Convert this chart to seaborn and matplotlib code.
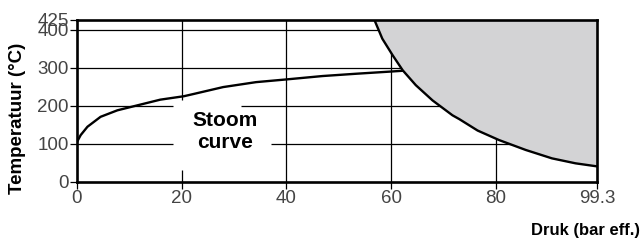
import numpy as np
import pandas as pd
import seaborn as sns
import matplotlib.pyplot as plt

# steam saturation curve (druk in bar eff., temperatuur in °C)
stoom_druk = [0, 0.7, 2, 4.5, 7.7, 11.5, 15.9, 20.4, 22.3, 27.9, 34.2, 39.9,
              46.9, 53.3, 60.2, 63.5]
stoom_temp = [105, 123, 145, 171, 188, 201, 216, 225, 231, 249, 262, 269,
              278, 284, 290, 293]

# boundary of the grey region
grens_druk = [56.8, 58.3, 60.3, 62.2, 64.7, 67.9, 71.7, 73, 76.5, 80.6,
              85.7, 90.7, 95.2, 99.3]
grens_temp = [425, 376, 332, 293, 254, 214, 175, 165, 135, 110,
              84, 62, 49, 41]

x_ticks = [0, 20, 40, 60, 80, 99.3]
x_labels = ['0', '20', '40', '60', '80', '99.3']
y_ticks = [0, 100, 200, 300, 400, 425]
y_labels = ['0', '100', '200', '300', '400', '425']

# grid segments, with the gap around the "Stoom curve" label
h_grid = [(100, 0, 18.3), (100, 37, 99.3), (200, 0, 18.3), (200, 31.4, 99.3),
          (300, 0, 99.3), (400, 0, 99.3)]
v_grid = [(20, 0, 31), (20, 214, 425), (40, 0, 425), (60, 0, 425), (80, 0, 425)]

sns.set_style('white')
plt.rcParams['font.family'] = ['Liberation Sans', 'DejaVu Sans']

fig = plt.figure(figsize=(6.43, 2.4), dpi=100)
ax = fig.add_axes([77 / 643, 1 - 182 / 240, 520 / 643, 162 / 240])

for y, x0, x1 in h_grid:
    ax.hlines(y, x0, x1, color='black', lw=0.9, zorder=1)
for x, y0, y1 in v_grid:
    ax.vlines(x, y0, y1, color='black', lw=0.9, zorder=1)

stoom = pd.DataFrame({'druk': stoom_druk, 'temp': stoom_temp})
sns.lineplot(data=stoom, x='druk', y='temp', color='black', lw=1.7, ax=ax,
             sort=False, zorder=2)

ax.fill_between(grens_druk, grens_temp, 425, color='#d3d3d5', lw=0, zorder=3)
grens = pd.DataFrame({'druk': grens_druk, 'temp': grens_temp})
sns.lineplot(data=grens, x='druk', y='temp', color='black', lw=1.7, ax=ax,
             sort=False, zorder=4)

ax.text(28.2, 133, 'Stoom\ncurve', ha='center', va='center', fontsize=15,
        fontweight='bold', color='black', linespacing=1.2, zorder=5)

ax.set_xlim(0, 99.3)
ax.set_ylim(0, 425)
ax.set_xticks(x_ticks)
ax.set_xticklabels(x_labels)
ax.set_yticks(y_ticks)
ax.set_yticklabels(y_labels)
ax.tick_params(axis='both', which='major', labelsize=13.5, labelcolor='#444444',
               length=5, width=0.9, color='black', direction='out', pad=1,
               bottom=True, left=True)
ax.set_xlabel('')
ax.set_ylabel('')
for s in ax.spines.values():
    s.set_linewidth(1.9)
    s.set_color('black')
    s.set_zorder(6)

fig.text(18 / 643, 1 - 118 / 240, 'Temperatuur (°C)', rotation=90, ha='center',
         va='center', fontsize=13.5, fontweight='bold', color='black')
fig.text(640 / 643, 1 - 230 / 240, 'Druk (bar eff.)', ha='right', va='center',
         fontsize=12, fontweight='bold', color='black')

fig.savefig('out.png', dpi=100)
